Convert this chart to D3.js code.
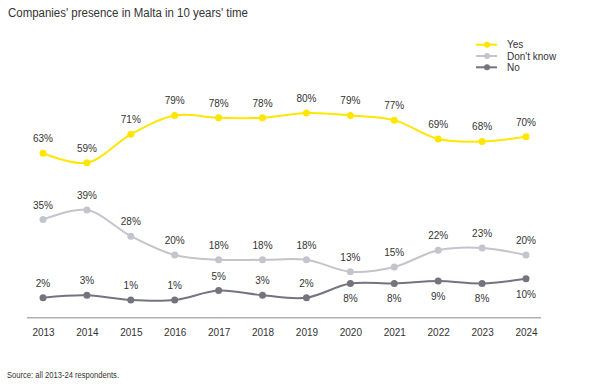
<!DOCTYPE html>
<html>
<head>
<meta charset="utf-8">
<script src="https://cdn.jsdelivr.net/npm/d3@7"></script>
<style>
  body { margin: 0; background: #fff; }
  text { font-family: "Liberation Sans", Arial, sans-serif; fill: #333; }
</style>
</head>
<body>
<svg id="chart"></svg>
<script>
// chart values
const years = [2013, 2014, 2015, 2016, 2017, 2018, 2019, 2020, 2021, 2022, 2023, 2024];
const yes = [63, 59, 71, 79, 78, 78, 80, 79, 77, 69, 68, 70];
const dontKnow = [35, 39, 28, 20, 18, 18, 18, 13, 15, 22, 23, 20];
const no = [2, 3, 1, 1, 5, 3, 2, 8, 8, 9, 8, 10];
const seriesNames = ["Yes", "Don't know", "No"];

const width = 602, height = 387;

const series = [
  { name: seriesNames[0], values: yes, color: "#ffe600", below: () => false },
  { name: seriesNames[1], values: dontKnow, color: "#c4c4cd", below: () => false },
  { name: seriesNames[2], values: no, color: "#747480", below: yr => yr >= 2020 }
];

const svg = d3.select("#chart")
  .attr("width", width)
  .attr("height", height)
  .attr("viewBox", [0, 0, width, height]);

// x: point scale over years
const x = d3.scalePoint()
  .domain(years)
  .range([43, 526]);

// y: baseline sits a bit below zero like the original
const y = d3.scaleLinear()
  .domain([-6.5, 100])
  .range([317.8, 65.7]);

// title
svg.append("text")
  .attr("x", 8)
  .attr("y", 17)
  .attr("font-size", 12)
  .attr("textLength", 240)
  .attr("lengthAdjust", "spacingAndGlyphs")
  .text("Companies' presence in Malta in 10 years' time");

// x axis
const xAxis = g => g
  .attr("transform", `translate(0,${y(-6.5)})`)
  .call(d3.axisBottom(x).tickSize(0).tickPadding(11))
  .call(g => g.select(".domain").attr("d", "M27,0H541").attr("stroke", "#b0b0b0").attr("stroke-width", 1.5))
  .call(g => g.selectAll("text").attr("font-size", 10).attr("fill", "#333")
    .attr("font-family", "'Liberation Sans', Arial, sans-serif"));

svg.append("g").call(xAxis);

const line = d3.line()
  .x((d, i) => x(years[i]))
  .y(d => y(d))
  .curve(d3.curveCatmullRom.alpha(0.5));

series.forEach(s => {
  const g = svg.append("g");
  g.append("path")
    .attr("d", line(s.values))
    .attr("fill", "none")
    .attr("stroke", s.color)
    .attr("stroke-width", 2);

  g.selectAll("circle")
    .data(s.values)
    .join("circle")
    .attr("cx", (d, i) => x(years[i]))
    .attr("cy", d => y(d))
    .attr("r", 3.5)
    .attr("fill", s.color);

  g.selectAll("text")
    .data(s.values)
    .join("text")
    .attr("x", (d, i) => x(years[i]))
    .attr("y", (d, i) => s.below(years[i]) ? y(d) + 19 : y(d) - 11)
    .attr("text-anchor", "middle")
    .attr("font-size", 10)
    .text(d => d + "%");
});

// legend
const legend = svg.append("g")
  .selectAll("g")
  .data(series)
  .join("g")
  .attr("transform", (d, i) => `translate(476,${44.7 + i * 11.3})`);

legend.append("line")
  .attr("x1", 0).attr("x2", 21)
  .attr("stroke", d => d.color)
  .attr("stroke-width", 2);

legend.append("circle")
  .attr("cx", 11).attr("r", 3)
  .attr("fill", d => d.color);

legend.append("text")
  .attr("x", 31)
  .attr("dy", "0.35em")
  .attr("font-size", 10)
  .text(d => d.name);

// source note
svg.append("text")
  .attr("x", 7)
  .attr("y", 378)
  .attr("font-size", 8.5)
  .attr("textLength", 112)
  .attr("lengthAdjust", "spacingAndGlyphs")
  .text("Source: all 2013-24 respondents.");
</script>
</body>
</html>
